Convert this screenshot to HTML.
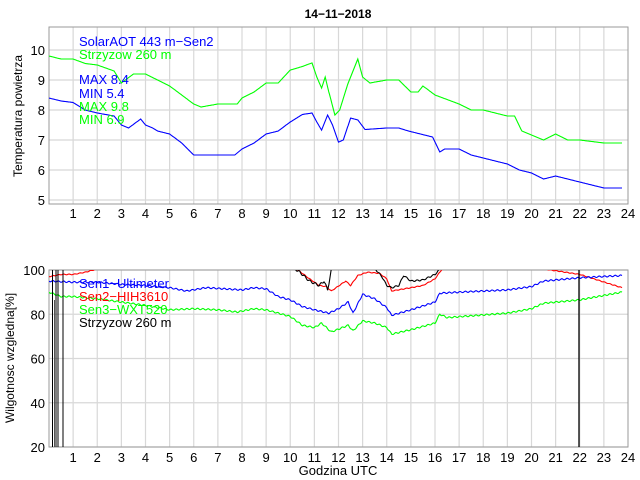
<!DOCTYPE html>
<html><head><meta charset="utf-8"><style>
body{margin:0;background:#fff;}
svg{display:block;font-family:"Liberation Sans",sans-serif;}
</style></head><body>
<svg id="s" width="640" height="480" xmlns="http://www.w3.org/2000/svg">
<defs>
<clipPath id="c1"><rect x="49" y="27" width="579" height="177"/></clipPath>
<clipPath id="c2"><rect x="49" y="270" width="579" height="177"/></clipPath>
</defs>
<g id="grid" stroke="#d8d8d8" stroke-width="1.2"></g>
<rect x="49" y="27" width="579" height="177" fill="none" stroke="#999"/>
<rect x="49" y="270" width="579" height="177" fill="none" stroke="#999"/>
<g id="lab" font-size="13" fill="#000"></g>
<g id="series" fill="none" stroke-width="1.1"></g>
<text x="338" y="18" font-size="12" font-weight="bold" text-anchor="middle">14−11−2018</text>
<text transform="translate(22,116) rotate(-90)" font-size="12" text-anchor="middle">Temperatura powietrza</text>
<text transform="translate(14,358) rotate(-90)" font-size="12" text-anchor="middle">Wilgotnosc wzgledna[%]</text>
<text x="338" y="475" font-size="13" text-anchor="middle">Godzina UTC</text>
<g font-size="13">
<text x="79" y="46" fill="#0000ff">SolarAOT 443 m−Sen2</text>
<text x="79" y="59" fill="#00ff00">Strzyzow 260 m</text>
<text x="79" y="84" fill="#0000ff">MAX 8.4</text>
<text x="79" y="98" fill="#0000ff">MIN 5.4</text>
<text x="79" y="111" fill="#00ff00">MAX 9.8</text>
<text x="79" y="124" fill="#00ff00">MIN 6.9</text>
<text x="79" y="288" fill="#0000ff">Sen1−Ultimeter</text>
<text x="79" y="301" fill="#ff0000">Sen2−HIH3610</text>
<text x="79" y="314" fill="#00ff00">Sen3−WXT520</text>
<text x="79" y="327" fill="#000">Strzyzow 260 m</text>
</g>
</svg>
<script>
const NS="http://www.w3.org/2000/svg";
const X=h=>49+h*24.125;
const Y1=v=>50+(10-v)*30;
const Y2=v=>270+(100-v)*2.2125;
const g=document.getElementById('grid'),lab=document.getElementById('lab'),ser=document.getElementById('series');
function el(p,t,a,txt){const e=document.createElementNS(NS,t);for(const k in a)e.setAttribute(k,a[k]);if(txt)e.textContent=txt;p.appendChild(e);return e;}
for(let h=1;h<24;h++){
 el(g,'line',{x1:X(h),x2:X(h),y1:27,y2:204});
 el(g,'line',{x1:X(h),x2:X(h),y1:270,y2:447});
}
for(let h=1;h<=24;h++){
 el(lab,'text',{x:X(h),y:218,'text-anchor':'middle'},h);
 el(lab,'text',{x:X(h),y:462,'text-anchor':'middle'},h);
}
for(let v=5;v<=10;v++){el(g,'line',{x1:49,x2:628,y1:Y1(v),y2:Y1(v)});el(lab,'text',{x:45,y:Y1(v)+5,'text-anchor':'end'},v);}
for(let v=20;v<=100;v+=20){el(g,'line',{x1:49,x2:628,y1:Y2(v),y2:Y2(v)});el(lab,'text',{x:45,y:Y2(v)+5,'text-anchor':'end'},v);}
function line(d,Y,col,clip,noise){
 let pts=[];
 for(let i=0;i<d.length-1;i++){const [h0,v0]=d[i],[h1,v1]=d[i+1];const n=Math.max(1,Math.round((h1-h0)*40));
  for(let k=0;k<n;k++){const t=k/n;let v=v0+(v1-v0)*t;if(noise)v+=(Math.sin((h0+t*(h1-h0))*977)*noise);pts.push(X(h0+t*(h1-h0)).toFixed(1)+','+Y(v).toFixed(1));}}
 const l=d[d.length-1];pts.push(X(l[0]).toFixed(1)+','+Y(l[1]).toFixed(1));
 el(ser,'polyline',{points:pts.join(' '),stroke:col,'clip-path':'url(#'+clip+')'});
}
line([[0,8.4],[0.5,8.3],[1,8.25],[1.5,8.0],[2,7.9],[2.7,7.8],[3,7.5],[3.3,7.4],[3.8,7.7],[4,7.5],[4.3,7.4],[4.5,7.3],[5,7.2],[5.5,6.9],[6,6.5],[7.7,6.5],[8,6.7],[8.5,6.9],[9,7.2],[9.5,7.3],[10,7.6],[10.5,7.85],[10.9,7.9],[11.1,7.6],[11.3,7.33],[11.55,7.83],[11.75,7.5],[12,6.93],[12.2,7.0],[12.5,7.73],[12.8,7.67],[13.1,7.35],[14,7.4],[14.5,7.4],[14.9,7.3],[15.4,7.2],[15.9,7.1],[16.2,6.6],[16.4,6.7],[17,6.7],[17.5,6.5],[18,6.4],[19,6.2],[19.5,6.0],[20,5.9],[20.5,5.7],[21,5.8],[21.5,5.7],[22,5.6],[23,5.4],[23.75,5.4]],Y1,'#0000ff','c1');
line([[0,9.8],[0.5,9.7],[1,9.7],[1.5,9.55],[2,9.5],[2.7,9.3],[3,8.9],[3.5,9.2],[4,9.2],[4.5,9.0],[5,8.8],[5.5,8.5],[6,8.2],[6.3,8.1],[7,8.2],[7.8,8.2],[8,8.4],[8.5,8.6],[9,8.9],[9.5,8.9],[10,9.33],[10.5,9.45],[10.9,9.57],[11.1,9.1],[11.3,8.73],[11.45,9.1],[11.6,8.6],[11.85,7.83],[12.05,8.0],[12.4,8.9],[12.8,9.7],[13,9.1],[13.3,8.9],[14,9.0],[14.5,9.0],[15,8.6],[15.3,8.6],[15.5,8.8],[16,8.5],[17,8.2],[17.5,8.0],[18,8.0],[19,7.8],[19.3,7.8],[19.6,7.3],[20.5,7.0],[21,7.2],[21.5,7.0],[22,7.0],[23,6.9],[23.75,6.9]],Y1,'#00ff00','c1');
line([[0,97],[0.5,98],[1,98],[1.5,99],[2,100.5],[10.2,101],[10.8,96],[11.2,93],[11.5,92.5],[11.7,90.5],[12.3,95],[12.5,93],[12.8,97.5],[13.2,99],[13.7,98.5],[14,96],[14.2,90.5],[15,92],[15.5,93],[16,96],[16.3,100.5],[20.5,100.5],[22,98],[23.75,92]],Y2,'#ff0000','c2',0.15);
line([[0,95],[1,94.5],[2,94.5],[3,93.5],[4,93],[5,92],[5.7,90.5],[6.5,92],[8,91],[8.5,92],[9,91.5],[9.5,88],[10,86.5],[10.5,83.5],[11,82],[11.6,80.5],[12,82.5],[12.4,85.5],[12.6,80.5],[13,89],[13.5,87],[14,83],[14.2,79.5],[15,82],[16,85.5],[16.2,89.5],[17,90],[19,91],[20,92.5],[20.5,95],[22,96.5],[23.75,97.5]],Y2,'#0000ff','c2',0.3);
line([[0,90],[0.5,88],[1,88],[2,87],[3,85.5],[4,84],[5,82],[6,82.5],[7,82],[7.8,81],[8.5,82.5],[9,82],[9.5,80.5],[10,79],[10.5,75],[11,74],[11.3,76],[11.7,72],[12.4,75],[12.6,72.5],[13,77],[13.5,76],[14,74],[14.2,71],[15,73],[16,76],[16.2,80],[16.5,78.5],[19,80.5],[20,82.5],[20.5,85],[22,86.5],[23.75,90]],Y2,'#00ff00','c2',0.3);
line([[10,102],[10.4,99],[10.8,95],[11.2,93],[11.4,95],[11.55,91],[11.75,103]],Y2,'#000','c2',0.5);
line([[13.4,102],[13.8,97],[14,93],[14.2,92],[14.5,93],[14.7,97.5],[15,95],[15.5,95.5],[16,98],[16.3,101.5]],Y2,'#000','c2',0.3);
for(const x of [52.5,56,58,63]) el(ser,'line',{x1:x,x2:x,y1:270,y2:447,stroke:'#000','stroke-width':1});
el(ser,'line',{x1:54.5,x2:54.5,y1:300,y2:447,stroke:'#555','stroke-width':1});
el(ser,'line',{x1:579,x2:579,y1:270,y2:447,stroke:'#000','stroke-width':1.3});
</script>
</body></html>
